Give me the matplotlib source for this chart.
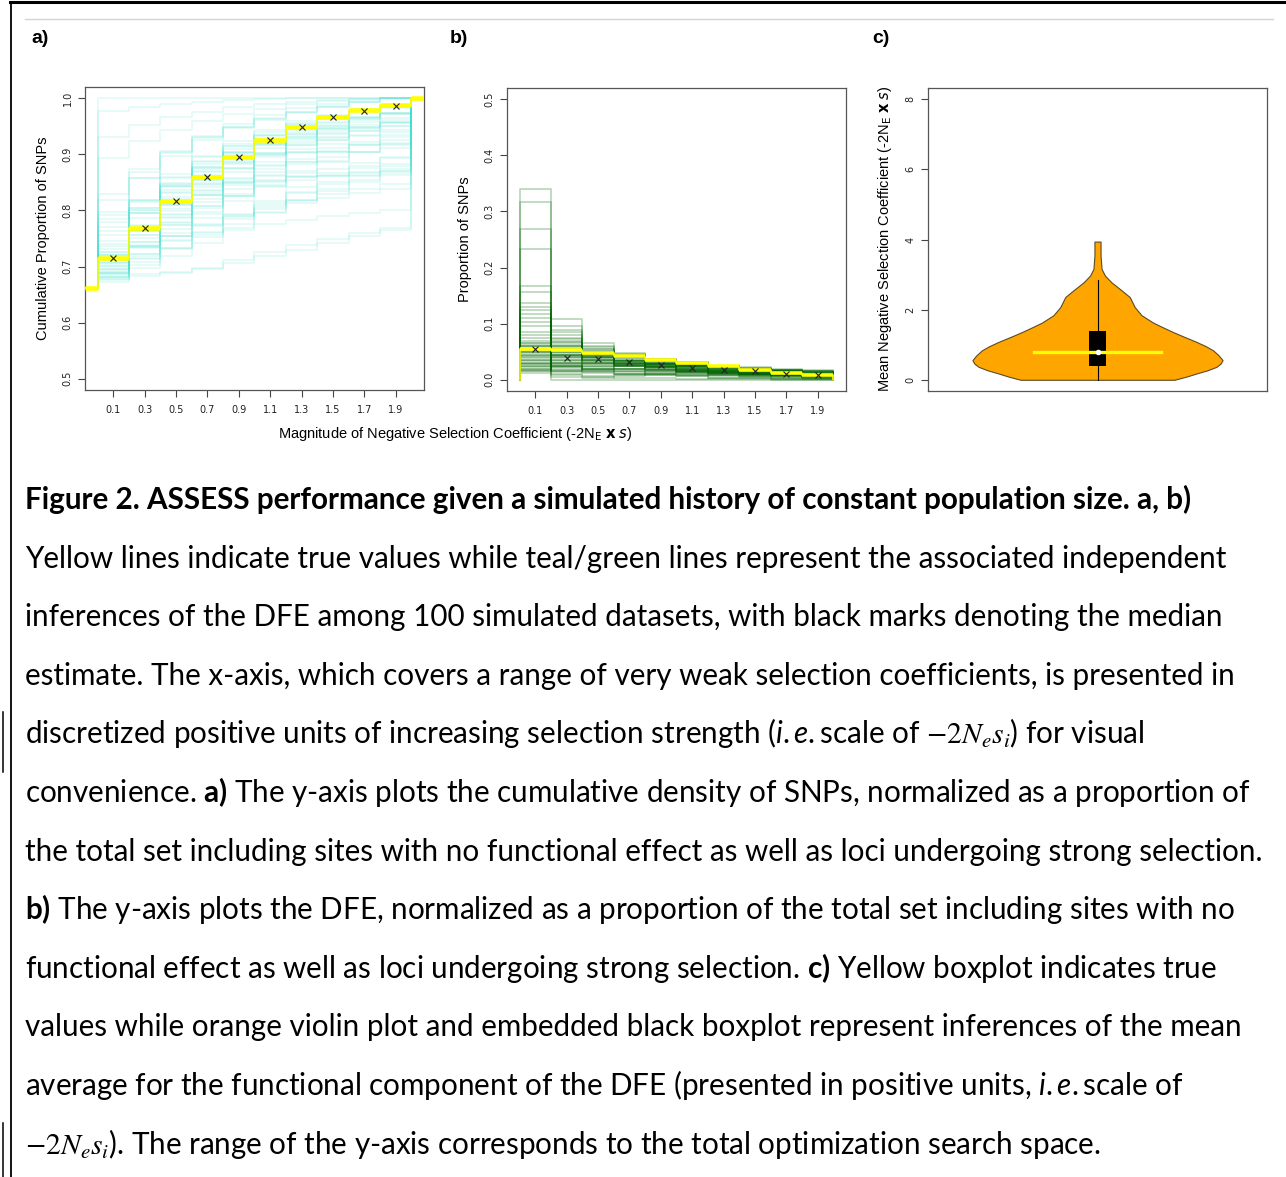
import matplotlib
matplotlib.use("Agg")
import matplotlib.pyplot as plt
import numpy as np
from matplotlib.patches import Rectangle

W, H = 1286, 1177

# x categories: magnitude of negative selection (-2Ne*s), bin centres
bin_mid = [0.1, 0.3, 0.5, 0.7, 0.9, 1.1, 1.3, 1.5, 1.7, 1.9]
tick_labels = ["0.1", "0.3", "0.5", "0.7", "0.9", "1.1", "1.3", "1.5", "1.7", "1.9"]
neutral = 0.661

# true DFE (yellow) and median estimates (black x)
true_dfe = [0.054, 0.053, 0.048, 0.043, 0.036, 0.030, 0.024, 0.018, 0.012, 0.009]
median_cum = [0.716, 0.768, 0.817, 0.860, 0.896, 0.926, 0.949, 0.966, 0.978, 0.986]
median_dfe = [0.055, 0.038, 0.037, 0.031, 0.026, 0.021, 0.017, 0.015, 0.011, 0.008]

# inferred DFE per bin (x 1/1000), one value per simulated dataset
dfe_01 = [340, 316, 269, 233, 168, 157, 136, 124, 118, 103, 110, 130, 12, 20, 45, 30, 55, 25, 60, 35,
          70, 40, 85, 20, 50, 65, 95, 30, 55, 15, 75, 42, 25, 60, 48, 35, 80, 18, 52, 28,
          65, 38, 22, 58, 45, 33, 28, 50, 16, 62]
dfe_03 = [0, 8, 22, 30, 45, 50, 60, 72, 40, 55, 30, 25, 10, 5, 109, 95, 88, 80, 75, 70,
          65, 62, 58, 55, 52, 48, 45, 44, 40, 38, 36, 35, 33, 30, 28, 27, 25, 24, 22, 20,
          18, 16, 15, 14, 60, 50, 68, 85, 45, 42]
dfe_05 = [0, 5, 14, 20, 32, 36, 40, 45, 30, 38, 20, 15, 6, 4, 50, 60, 55, 66, 52, 58,
          45, 50, 40, 50, 46, 40, 35, 42, 38, 40, 30, 36, 35, 28, 30, 25, 22, 28, 20, 24,
          16, 18, 20, 12, 44, 48, 55, 48, 52, 34]
dfe_07 = [0, 4, 10, 15, 24, 25, 28, 30, 20, 26, 14, 10, 8, 6, 30, 40, 38, 45, 40, 46,
          35, 42, 30, 45, 40, 34, 28, 38, 33, 40, 26, 34, 33, 25, 30, 24, 20, 30, 19, 26,
          15, 20, 24, 11, 36, 44, 43, 33, 47, 29]
dfe_09 = [0, 3, 8, 12, 18, 20, 22, 22, 15, 20, 10, 8, 15, 10, 20, 28, 27, 33, 30, 35,
          28, 36, 24, 37, 34, 28, 22, 34, 29, 36, 22, 30, 30, 22, 28, 22, 18, 29, 17, 26,
          14, 22, 27, 10, 30, 37, 34, 25, 36, 25]
dfe_11 = [0, 2, 6, 10, 14, 15, 16, 16, 12, 15, 8, 6, 14, 12, 14, 20, 20, 25, 22, 28,
          22, 30, 18, 31, 28, 23, 17, 30, 25, 31, 18, 26, 27, 19, 25, 20, 16, 27, 15, 24,
          13, 22, 26, 9, 25, 30, 27, 19, 29, 21]
dfe_13 = [0, 1, 4, 8, 12, 12, 12, 12, 9, 11, 6, 4, 12, 12, 10, 14, 15, 18, 16, 21,
          17, 24, 14, 25, 22, 18, 13, 25, 21, 25, 15, 22, 23, 16, 21, 18, 13, 24, 13, 22,
          11, 20, 23, 8, 20, 24, 21, 15, 24, 17]
dfe_15 = [0, 1, 3, 6, 10, 10, 10, 8, 7, 9, 5, 3, 11, 12, 8, 10, 11, 13, 12, 15,
          13, 18, 11, 22, 17, 14, 10, 21, 17, 20, 12, 18, 20, 13, 18, 16, 11, 21, 11, 19,
          10, 18, 20, 7, 16, 19, 16, 12, 20, 14]
dfe_17 = [0, 0, 2, 4, 9, 8, 8, 6, 5, 7, 4, 2, 10, 12, 6, 8, 8, 10, 9, 11,
          10, 14, 8, 19, 13, 11, 8, 17, 14, 16, 9, 15, 17, 11, 15, 14, 9, 18, 9, 16,
          8, 15, 17, 6, 12, 15, 12, 9, 17, 11]
dfe_19 = [0, 0, 2, 2, 8, 7, 6, 5, 4, 5, 3, 2, 9, 12, 4, 6, 6, 8, 7, 8,
          8, 10, 6, 17, 10, 8, 6, 14, 11, 13, 7, 12, 15, 9, 12, 12, 7, 16, 8, 14,
          7, 13, 15, 5, 9, 11, 9, 7, 15, 9]

# c) violin of inferred mean selection coefficient (profile read off the picture)
violin_y = [0.00, 0.09, 0.18, 0.27, 0.37, 0.46, 0.56, 0.70, 0.84, 0.96, 1.08, 1.22, 1.36, 1.50,
            1.63, 1.84, 2.07, 2.36, 2.55, 2.78, 2.97, 3.16, 3.54, 3.94]
violin_hw = [0.227, 0.262, 0.292, 0.324, 0.351, 0.363, 0.369, 0.357, 0.341, 0.319, 0.292, 0.257,
             0.223, 0.192, 0.164, 0.130, 0.110, 0.095, 0.071, 0.041, 0.022, 0.012, 0.009, 0.009]
box_q1, box_q3 = 0.40, 1.39
box_median = 0.78
whisker_lo, whisker_hi = 0.0, 2.85
true_mean = 0.78

caption = [
    "Figure 2. ASSESS performance given a simulated history of constant population size. a, b)",
    "Yellow lines indicate true values while teal/green lines represent the associated independent",
    "inferences of the DFE among 100 simulated datasets, with black marks denoting the median",
    "estimate. The x-axis, which covers a range of very weak selection coefficients, is presented in",
    r"discretized positive units of increasing selection strength ($\mathit{i.e.}$scale of "
    r"$\mathsf{-2}\mathcal{N}_{\mathcal{e}}\mathcal{s}_{\mathcal{i}}$) for visual",
    r"convenience. $\mathbf{a)}$ The y-axis plots the cumulative density of SNPs, normalized as a proportion of",
    "the total set including sites with no functional effect as well as loci undergoing strong selection.",
    r"$\mathbf{b)}$ The y-axis plots the DFE, normalized as a proportion of the total set including sites with no",
    r"functional effect as well as loci undergoing strong selection. $\mathbf{c)}$ Yellow boxplot indicates true",
    "values while orange violin plot and embedded black boxplot represent inferences of the mean",
    r"average for the functional component of the DFE (presented in positive units, $\mathit{i.e.}$scale of",
    r"$\mathsf{-2}\mathcal{N}_{\mathcal{e}}\mathcal{s}_{\mathcal{i}}$). The range of the y-axis corresponds "
    "to the total optimization search space.",
]

plt.rcParams['font.family'] = ['Liberation Sans', 'DejaVu Sans']
plt.rcParams['mathtext.fontset'] = 'custom'
plt.rcParams['mathtext.rm'] = 'Lato'
plt.rcParams['mathtext.it'] = 'Lato:italic'
plt.rcParams['mathtext.bf'] = 'Lato:bold'
plt.rcParams['mathtext.cal'] = 'STIXGeneral:italic'
plt.rcParams['mathtext.sf'] = 'STIXGeneral'

fig = plt.figure(figsize=(W / 100, H / 100), dpi=100)

# page decorations in pixel coordinates
ov = fig.add_axes([0, 0, 1, 1])
ov.set_xlim(0, W)
ov.set_ylim(H, 0)
ov.axis('off')
ov.plot([10, W], [2, 2], color='black', lw=2.2)
ov.plot([11, 11], [2, H], color='black', lw=1.3)
ov.plot([25, 1273], [19, 19], color='#d4d4d4', lw=1)
ov.plot([3, 3], [712, 772], color='black', lw=1.1)
ov.plot([3, 3], [1123, H], color='black', lw=1.1)


def panel(l, t, r, b):
    a = fig.add_axes([l / W, 1 - b / H, (r - l) / W, (b - t) / H])
    for s in a.spines.values():
        s.set_color('#555555')
        s.set_linewidth(0.9)
    a.tick_params(direction='out', length=5, width=0.8, color='#444444',
                  labelsize=7, labelcolor='#222222', labelfontfamily='DejaVu Sans')
    return a


mid = np.array(bin_mid)
edges = np.append(mid - 0.1, mid[-1] + 0.1)
inferred = np.array([dfe_01, dfe_03, dfe_05, dfe_07, dfe_09,
                     dfe_11, dfe_13, dfe_15, dfe_17, dfe_19]).T / 1000.0
xl = (-0.08, 2.08)

# a) cumulative
axa = panel(85, 87, 424, 390)
xa = np.concatenate([[xl[0]], edges, [xl[1]]])
for d in inferred:
    ya = np.concatenate([[neutral], neutral + np.cumsum(d), [1.0, 1.0]])
    axa.plot(xa, ya, drawstyle='steps-post', color='turquoise', alpha=0.14, lw=1.3)
true_cum = np.concatenate([[neutral], neutral + np.cumsum(true_dfe), [1.0]])
ya = np.append(true_cum, 1.0)
axa.plot(xa, ya, drawstyle='steps-post', color='yellow', lw=1.2, zorder=5)
axa.hlines(true_cum, xa[:-1], xa[1:], color='yellow', lw=3.3, zorder=5)
axa.plot(mid, median_cum, 'x', color='#222222', ms=4, mew=0.8, zorder=6)
axa.set_xlim(*xl)
axa.set_ylim(0.48, 1.02)
axa.set_yticks([0.5, 0.6, 0.7, 0.8, 0.9, 1.0])
axa.set_yticklabels(["0.5", "0.6", "0.7", "0.8", "0.9", "1.0"], rotation=90, va='center')

# b) DFE
axb = panel(507, 88, 846, 391)
xb = np.concatenate([[0.0], edges])
for d in inferred:
    yb = np.concatenate([[0.0], d, [0.0]])
    axb.plot(xb, yb, drawstyle='steps-post', color='darkgreen', alpha=0.26, lw=1.3)
yb = np.concatenate([[0.0], true_dfe, [0.0]])
axb.plot(xb, yb, drawstyle='steps-post', color='yellow', lw=1.2, zorder=5)
axb.hlines(true_dfe, edges[:-1], edges[1:], color='yellow', lw=2.6, zorder=5)
axb.plot(mid, median_dfe, 'x', color='#222222', ms=4, mew=0.8, zorder=6)
axb.set_xlim(*xl)
axb.set_ylim(-0.02, 0.52)
axb.set_yticks([0.0, 0.1, 0.2, 0.3, 0.4, 0.5])
axb.set_yticklabels(["0.0", "0.1", "0.2", "0.3", "0.4", "0.5"], rotation=90, va='center')

for a in (axa, axb):
    a.set_xticks(bin_mid)
    a.set_xticklabels(tick_labels)
    a.tick_params(axis='x', pad=6)
    a.tick_params(axis='y', pad=4)

# c) violin
axc = panel(928, 88, 1267, 391)
vy = np.array(violin_y)
vw = np.array(violin_hw)
axc.fill_betweenx(vy, 1 - vw, 1 + vw, facecolor='orange', edgecolor='#5c4a22', lw=0.8, zorder=2)
axc.plot([1, 1], [whisker_lo, whisker_hi], color='black', lw=0.8, zorder=3)
axc.add_patch(Rectangle((1 - 0.0236, box_q1), 0.0472, box_q3 - box_q1, facecolor='black',
                        edgecolor='none', zorder=4))
axc.plot([1 - 0.187, 1 + 0.187], [true_mean, true_mean], color='yellow', lw=2.4, zorder=5)
axc.plot([1], [box_median], 'o', color='white', ms=3, zorder=6)
axc.set_xlim(0.5, 1.5)
axc.set_ylim(-0.32, 8.32)
axc.set_xticks([])
axc.set_yticks([0, 2, 4, 6, 8])
axc.set_yticklabels(["0", "2", "4", "6", "8"], rotation=90, va='center')
axc.tick_params(axis='y', pad=4)

# panel letters and axis titles
for x, s in [(31, "a)"), (450, "b)"), (872, "c)")]:
    fig.text(x / W, 1 - 43 / H, s, fontsize=14, fontweight='bold', va='baseline')
fig.text(43 / W, 1 - 238.5 / H, "Cumulative Proportion of SNPs", rotation=90,
         ha='center', va='center', fontsize=10.5)
fig.text(465 / W, 1 - 239 / H, "Proportion of SNPs", rotation=90,
         ha='center', va='center', fontsize=10.5)
fig.text(885 / W, 1 - 239 / H,
         r"Mean Negative Selection Coefficient (-2N$_{\mathrm{E}}$ $\mathbf{x}$ $\mathit{s}$)",
         rotation=90, ha='center', va='center', fontsize=10.5, math_fontfamily='dejavusans')
fig.text(455 / W, 1 - 434 / H,
         r"Magnitude of Negative Selection Coefficient (-2N$_{\mathrm{E}}$ $\mathbf{x}$ $\mathit{s}$)",
         ha='center', va='center', fontsize=10.5, math_fontfamily='dejavusans')

# caption, font size fitted to the width of the second line
renderer = fig.canvas.get_renderer()
probe = fig.text(0, 0, caption[1], fontsize=20, family='Lato')
fs = 20 * 1207 / probe.get_window_extent(renderer).width
probe.remove()
for i, line in enumerate(caption):
    fig.text(25 / W, 1 - (509 + 58.6 * i) / H, line, fontsize=fs, family='Lato',
             fontweight='bold' if i == 0 else 'normal', va='baseline', ha='left')

fig.savefig("out.png", dpi=100, facecolor='white')
